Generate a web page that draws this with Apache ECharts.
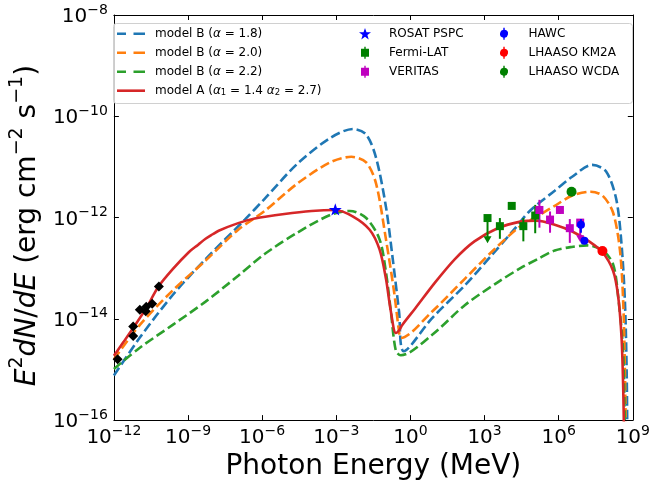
<!DOCTYPE html>
<html><head><meta charset="utf-8">
<script src="https://cdn.jsdelivr.net/npm/echarts@6/dist/echarts.min.js"></script>
<style>html,body{margin:0;padding:0;background:#fff}#c{width:653px;height:486px}</style>
</head><body><div id="c"></div>
<script>
// All values are log10 of the plotted quantity: [log10(E/MeV), log10(E^2 dN/dE)]
const xTickExps = [-12, -9, -6, -3, 0, 3, 6, 9];
const yTickExps = [-16, -14, -12, -10, -8];

const modelB18 = [[-12.0,-15.12],[-10.95,-14.37],[-9.62,-13.53],[-8.29,-12.82],[-6.7,-12.04],[-5.9,-11.63],[-4.58,-10.94],[-3.25,-10.43],[-2.32,-10.25],[-1.79,-10.36],[-1.39,-10.82],[-0.99,-11.79],[-0.73,-12.76],[-0.46,-13.86],[-0.27,-14.64],[0.87,-13.99],[2.2,-13.34],[3.26,-12.76],[4.19,-12.24],[4.85,-11.86],[5.84,-11.47],[6.53,-11.2],[7.36,-10.96],[7.92,-11.09],[8.33,-11.64],[8.54,-12.51],[8.68,-13.66],[8.75,-15.01],[8.78,-16.5]];
const modelB20 = [[-12.0,-14.8],[-10.95,-14.12],[-9.62,-13.44],[-8.29,-12.85],[-6.97,-12.24],[-5.9,-11.87],[-4.58,-11.33],[-3.25,-10.91],[-2.39,-10.8],[-1.79,-10.91],[-1.39,-11.33],[-0.99,-12.43],[-0.66,-13.47],[-0.46,-14.25],[-0.39,-14.38],[0.87,-13.86],[2.2,-13.21],[3.39,-12.63],[4.45,-12.17],[5.15,-11.97],[5.84,-11.77],[6.53,-11.57],[7.3,-11.49],[7.78,-11.57],[8.2,-11.9],[8.48,-12.65],[8.61,-13.66],[8.68,-15.01],[8.72,-16.5]];
const modelB22 = [[-12.0,-14.99],[-10.95,-14.57],[-9.62,-14.12],[-8.29,-13.66],[-6.97,-13.15],[-5.9,-12.72],[-4.58,-12.3],[-3.25,-11.95],[-2.45,-11.87],[-1.79,-12.01],[-1.25,-12.43],[-0.99,-13.08],[-0.79,-13.86],[-0.59,-14.63],[-0.39,-14.72],[0.87,-14.32],[2.2,-13.73],[3.53,-13.28],[4.45,-13.0],[5.15,-12.82],[5.84,-12.65],[6.53,-12.58],[7.15,-12.55],[7.78,-12.65],[8.2,-12.92],[8.4,-13.53],[8.61,-14.67],[8.68,-16.5]];
const modelA = [[-12.0,-14.73],[-11.6,-14.45],[-11.22,-14.18],[-10.69,-13.79],[-10.22,-13.38],[-9.62,-13.02],[-8.96,-12.68],[-8.6,-12.54],[-8.29,-12.42],[-8.0,-12.33],[-7.76,-12.26],[-6.97,-12.11],[-6.3,-12.02],[-5.1,-11.93],[-4.0,-11.87],[-3.05,-11.85],[-2.32,-11.98],[-1.65,-12.24],[-1.25,-12.63],[-0.99,-13.21],[-0.79,-13.86],[-0.59,-14.28],[-0.45,-14.22],[-0.33,-14.12],[0.2,-13.79],[1.0,-13.28],[1.8,-12.82],[2.59,-12.47],[3.53,-12.21],[4.45,-12.08],[5.1,-12.06],[5.84,-12.14],[6.53,-12.27],[7.23,-12.47],[7.78,-12.69],[8.2,-13.05],[8.4,-13.53],[8.54,-14.34],[8.61,-15.35],[8.65,-16.5]];

const radioE = [-11.85,-11.22,-11.22,-10.95,-10.69,-10.71,-10.45,-10.18];
const radioF = [-14.80,-14.15,-14.34,-13.82,-13.76,-13.85,-13.70,-13.36];
const rosatE = [-3.04]; const rosatF = [-11.84];
const fermiE = [3.62, 4.10, 4.57, 5.05];
const fermiF = [-12.17, -11.77, -12.17, -11.96];
const fermiLo = [-12.42, -11.80, -12.47, -12.31];
const fermiHi = [-12.01, -11.74, -12.01, -11.75];
const fermiUlE = [3.12]; const fermiUlF = [-12.01]; const fermiUlTo = [-12.49];
const veritasE = [5.22, 5.65, 6.05, 6.45];
const veritasF = [-11.85, -12.04, -11.85, -12.21];
const veritasLo = [-12.20, -12.30, -11.93, -12.50];
const veritasHi = [-11.65, -11.88, -11.78, -12.03];
const veritasUlE = [6.87]; const veritasUlF = [-12.10]; const veritasUlTo = [-12.47];
const hawcE = [6.90, 7.04]; const hawcF = [-12.14, -12.46];
const hawcLo = [-12.30, -12.50]; const hawcHi = [-12.03, -12.42];
const km2aE = [7.77]; const km2aF = [-12.66];
const wcdaE = [6.52]; const wcdaF = [-11.49];

const zip = (a, b) => a.map((v, i) => [v, b[i]]);
const zip3 = (a, b, c) => a.map((v, i) => [v, b[i], c[i]]);

const FONT = 'DejaVu Sans';
const labelRich = {
  b: {fontSize: 20, fontFamily: FONT, color: '#000', lineHeight: 24, verticalAlign: 'bottom'},
  s: {fontSize: 14, fontFamily: FONT, color: '#000', lineHeight: 10, verticalAlign: 'top'}
};
const pow10 = v => '{b|10}{s|' + (v < 0 ? '\u2212' + (-v) : v) + '}';

function errRender(color) {
  return function (params, api) {
    const x = api.value(0);
    const a = api.coord([x, api.value(1)]);
    const b = api.coord([x, api.value(2)]);
    return {type: 'line', shape: {x1: a[0], y1: a[1], x2: b[0], y2: b[1]}, style: {stroke: color, lineWidth: 2}};
  };
}
function ulRender(color) {
  return function (params, api) {
    const x = api.value(0);
    const a = api.coord([x, api.value(1)]);
    const b = api.coord([x, api.value(2)]);
    return {type: 'group', children: [
      {type: 'line', shape: {x1: a[0], y1: a[1], x2: b[0], y2: b[1] - 4}, style: {stroke: color, lineWidth: 2}},
      {type: 'polygon', shape: {points: [[b[0] - 4, b[1] - 6], [b[0] + 4, b[1] - 6], [b[0], b[1] + 1]]}, style: {fill: color}}
    ]};
  };
}

const STAR = 'path://M6,0L7.41,4.06L11.71,4.15L8.28,6.74L9.53,10.85L6,8.4L2.47,10.85L3.72,6.74L0.29,4.15L4.59,4.06Z';
const SQ_ICON = 'path://M3.3,0H4.7V2H8V10H4.7V12H3.3V10H0V2H3.3Z';
const CI_ICON = 'path://M3.3,0H4.7V2.06A4,4,0,0,1,4.7,9.94V12H3.3V9.94A4,4,0,0,1,3.3,2.06Z';
const DASH_ICON = 'path://M0,0H9V2.6H0Z M16.5,0H28V2.6H16.5Z';
const LINE_ICON = 'path://M0,0H28V2.6H0Z';

const C = {blue: '#1f77b4', orange: '#ff7f0e', green: '#2ca02c', red: '#d62728'};
const dash = [9.5, 4];

function lineSeries(name, data, color, type) {
  return {type: 'line', name: name, data: data, showSymbol: false, symbol: 'none', smooth: 0.3,
    lineStyle: {color: color, width: 2.6, type: type}, itemStyle: {color: color}, z: 2, silent: true};
}
function scatterSeries(name, data, symbol, size, color, z) {
  return {type: 'scatter', name: name, data: data, symbol: symbol, symbolSize: size, symbolKeepAspect: true,
    itemStyle: {color: color, opacity: 1}, z: z || 5, silent: true};
}
function customSeries(name, data, render, z) {
  return {type: 'custom', name: name, data: data, renderItem: render, encode: {x: 0, y: [1, 2]}, z: z || 4, silent: true};
}

const legendNames = {
  'mB18': 'model B ({i|α} = 1.8)',
  'mB20': 'model B ({i|α} = 2.0)',
  'mB22': 'model B ({i|α} = 2.2)',
  'mA': 'model A ({i|α}{sub|1} = 1.4 {i|α}{sub|2} = 2.7)'
};
const legTextRich = {
  i: {fontSize: 12, fontFamily: FONT, fontStyle: 'italic', color: '#000', lineHeight: 14},
  sub: {fontSize: 8.5, fontFamily: FONT, color: '#000', lineHeight: 8, verticalAlign: 'bottom'}
};

const axisCommon = {
  type: 'value', axisLine: {show: true, onZero: false, lineStyle: {color: '#000', width: 1}},
  axisTick: {show: true, inside: true, length: 5, lineStyle: {color: '#000', width: 1}},
  splitLine: {show: false}
};

const option = {
  animation: false,
  backgroundColor: '#fff',
  grid: {left: 107, right: 19, top: 15, bottom: 59, containLabel: false},
  xAxis: [
    Object.assign({}, axisCommon, {min: xTickExps[0], max: xTickExps[xTickExps.length - 1], interval: 3, position: 'bottom',
      axisLabel: {formatter: pow10, rich: labelRich, margin: 4},
      name: 'Photon Energy (MeV)', nameLocation: 'middle', nameGap: 29,
      nameTextStyle: {fontSize: 28, fontFamily: FONT, color: '#000'}}),
    Object.assign({}, axisCommon, {min: xTickExps[0], max: xTickExps[xTickExps.length - 1], interval: 3, position: 'top',
      axisLabel: {show: false}})
  ],
  yAxis: [
    Object.assign({}, axisCommon, {min: yTickExps[0], max: yTickExps[yTickExps.length - 1], interval: 2, position: 'left',
      axisLabel: {formatter: pow10, rich: labelRich, margin: 6},
      name: '{i|E}{s|2}{i|dN}{n|/}{i|dE}{n| (erg cm}{s|\u22122}{n| s}{s|\u22121}{n|)}',
      nameLocation: 'middle', nameGap: 70, nameRotate: 90,
      nameTextStyle: {fontSize: 28, fontFamily: FONT, color: '#000', padding: [0, 16, 0, 0], rich: {
        i: {fontSize: 28, fontFamily: FONT, fontStyle: 'italic', color: '#000', lineHeight: 34, verticalAlign: 'bottom'},
        n: {fontSize: 28, fontFamily: FONT, color: '#000', lineHeight: 34, verticalAlign: 'bottom'},
        s: {fontSize: 19, fontFamily: FONT, color: '#000', lineHeight: 14, verticalAlign: 'top'}
      }}}),
    Object.assign({}, axisCommon, {min: yTickExps[0], max: yTickExps[yTickExps.length - 1], interval: 2, position: 'right',
      axisLabel: {show: false}})
  ],
  graphic: [{type: 'rect', left: 113, top: 23, shape: {width: 519, height: 80, r: 3},
    style: {fill: 'rgba(255,255,255,0.8)', stroke: '#d0d0d0', lineWidth: 1}, z: 3}],
  legend: [
    {data: [{name: 'mB18', icon: DASH_ICON}, {name: 'mB20', icon: DASH_ICON}, {name: 'mB22', icon: DASH_ICON}, {name: 'mA', icon: LINE_ICON}],
      orient: 'vertical', left: 117, top: 26.7, padding: 0, itemGap: 5,
      itemWidth: 28, itemHeight: 14, selectedMode: false, formatter: n => legendNames[n],
      textStyle: {fontSize: 12, fontFamily: FONT, color: '#000', lineHeight: 14, padding: [0, 0, 0, 5], rich: legTextRich}},
    {data: [{name: 'ROSAT PSPC', icon: STAR}, {name: 'Fermi-LAT', icon: SQ_ICON}, {name: 'VERITAS', icon: SQ_ICON}],
      orient: 'vertical', left: 359, top: 26.7, padding: 0, itemGap: 5, itemWidth: 12, itemHeight: 12, selectedMode: false,
      textStyle: {fontSize: 12, fontFamily: FONT, color: '#000', lineHeight: 14, padding: [0, 0, 0, 13]}},
    {data: [{name: 'HAWC', icon: CI_ICON}, {name: 'LHAASO KM2A', icon: CI_ICON}, {name: 'LHAASO WCDA', icon: CI_ICON}],
      orient: 'vertical', left: 500, top: 26.7, padding: 0, itemGap: 5, itemWidth: 12, itemHeight: 12, selectedMode: false,
      textStyle: {fontSize: 12, fontFamily: FONT, color: '#000', lineHeight: 14, padding: [0, 0, 0, 13.5]}}
  ],
  series: [
    lineSeries('mB18', modelB18, C.blue, dash),
    lineSeries('mB20', modelB20, C.orange, dash),
    lineSeries('mB22', modelB22, C.green, dash),
    lineSeries('mA', modelA, C.red, 'solid'),
    scatterSeries('radio', zip(radioE, radioF), 'diamond', 10, '#000'),
    scatterSeries('ROSAT PSPC', zip(rosatE, rosatF), STAR, 13, '#0000ff'),
    customSeries('fermiErr', zip3(fermiE, fermiLo, fermiHi), errRender('#008000')),
    customSeries('fermiUl', zip3(fermiUlE, fermiUlF, fermiUlTo), ulRender('#008000')),
    scatterSeries('Fermi-LAT', zip(fermiE.concat(fermiUlE), fermiF.concat(fermiUlF)), 'rect', 8, '#008000'),
    customSeries('veritasErr', zip3(veritasE, veritasLo, veritasHi), errRender('#bf00bf')),
    customSeries('veritasUl', zip3(veritasUlE, veritasUlF, veritasUlTo), ulRender('#bf00bf')),
    scatterSeries('VERITAS', zip(veritasE.concat(veritasUlE), veritasF.concat(veritasUlF)), 'rect', 8, '#bf00bf'),
    customSeries('hawcErr', zip3(hawcE, hawcLo, hawcHi), errRender('#0000ff'), 6),
    scatterSeries('HAWC', zip(hawcE, hawcF), 'circle', 8, '#0000ff', 7),
    scatterSeries('LHAASO KM2A', zip(km2aE, km2aF), 'circle', 10, '#ff0000', 7),
    scatterSeries('LHAASO WCDA', zip(wcdaE, wcdaF), 'circle', 10, '#008000', 7)
  ]
};
const chart = echarts.init(document.getElementById('c'), null, {renderer: 'canvas'});
chart.setOption(option);
</script></body></html>
